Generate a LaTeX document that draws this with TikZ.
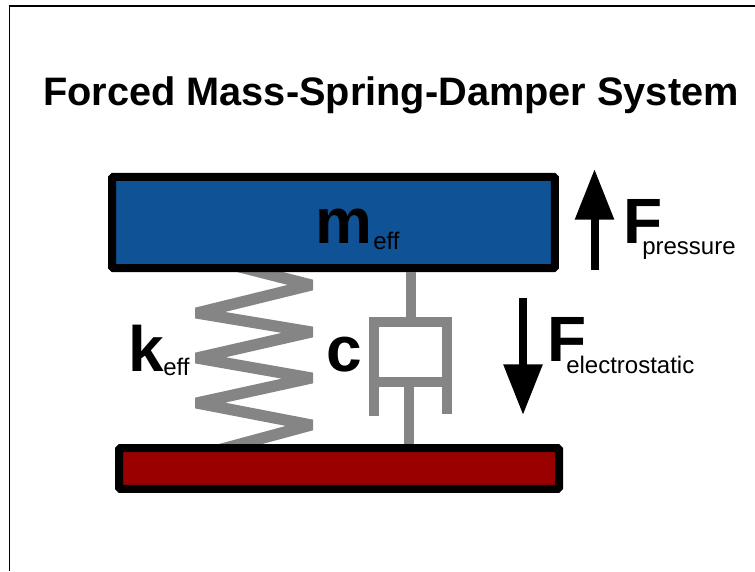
\documentclass[tikz,border=0pt]{standalone}
\usepackage{fontspec}
\setmainfont{Liberation Sans}
\usetikzlibrary{arrows.meta,backgrounds}
\definecolor{massblue}{HTML}{0F5296}
\definecolor{basered}{HTML}{990000}
\definecolor{partgray}{HTML}{858585}
\tikzset{
	plate/.style = {draw, line width = 6pt, rounded corners = 1pt, inner sep = 0pt},
	part/.style = {partgray, line width = 7.5pt},
	force/.style = {line width = 6pt, -{Triangle[length = 38pt, width = 28pt]}},
	bigtext/.style = {anchor = base west, inner sep = 0pt, font = \bfseries\fontsize{48}{48}\selectfont},
	subtext/.style = {anchor = base west, inner sep = 0pt, font = \fontsize{18}{18}\selectfont}
}
\begin{document}
\begin{tikzpicture}[x = 0.75pt, y = -0.75pt]
	\useasboundingbox (0,0) rectangle (755,571);
	\coordinate (framea) at (9.5,571);
	\coordinate (frameb) at (9.5,6);
	\coordinate (framec) at (755,6);
	\draw [line width = 1.4pt] (framea) -- (frameb) -- (framec);
	\node [anchor = base, inner sep = 0pt, font = \bfseries\fontsize{29.8}{29.8}\selectfont] (title) at (391,105) {Forced Mass-Spring-Damper System};

	%plates
	\node [plate, fill = massblue, minimum width = 332pt, minimum height = 68.5pt] (mass) at (333.5,222.5) {};
	\node [plate, fill = basered, minimum width = 330pt, minimum height = 30.5pt] (base) at (339,468.5) {};

	%spring
	\coordinate (springtop) at (205,258);
	\coordinate (springbot) at (205,453.6);
	\begin{scope}[on background layer]
		\clip (195,250) rectangle (313,465);
		\draw [part, line width = 8.5pt, miter limit = 20] (springtop) -- (311,285) -- (197,313) -- (311,332) -- (197,358) -- (311,378) -- (197,403) -- (311,425) -- (springbot);
	\end{scope}

	%damper
	\coordinate (rodtop) at (411,321);
	\coordinate (rodbot) at (409,382);
	\draw [part] (mass.south -| rodtop) -- (rodtop);
	\draw [part] (374,416) -- (374,321.5) -- (447,321.5) -- (447,414);
	\draw [part] (369,382) -- (452,382);
	\draw [part] (rodbot) -- (base.north -| rodbot);

	%forces
	\coordinate (presstail) at (594.5,270);
	\coordinate (presstip) at (594.5,169);
	\coordinate (electail) at (523,298);
	\coordinate (electip) at (523,415);
	\draw [force] (presstail) -- (presstip);
	\draw [force] (electail) -- (electip);

	%labels
	\node [bigtext] (mlabel) at (315,243.5) {m};
	\node [subtext] (msub) at (373,249) {eff};
	\node [bigtext] (klabel) at (128,371) {k};
	\node [subtext] (ksub) at (163,375) {eff};
	\node [bigtext] (clabel) at (326,371) {c};
	\node [bigtext] (fpress) at (623,243) {F};
	\node [subtext] (fpresssub) at (642,254) {pressure};
	\node [bigtext] (felec) at (547,361) {F};
	\node [subtext] (felecsub) at (566,373) {electrostatic};
\end{tikzpicture}
\end{document}
